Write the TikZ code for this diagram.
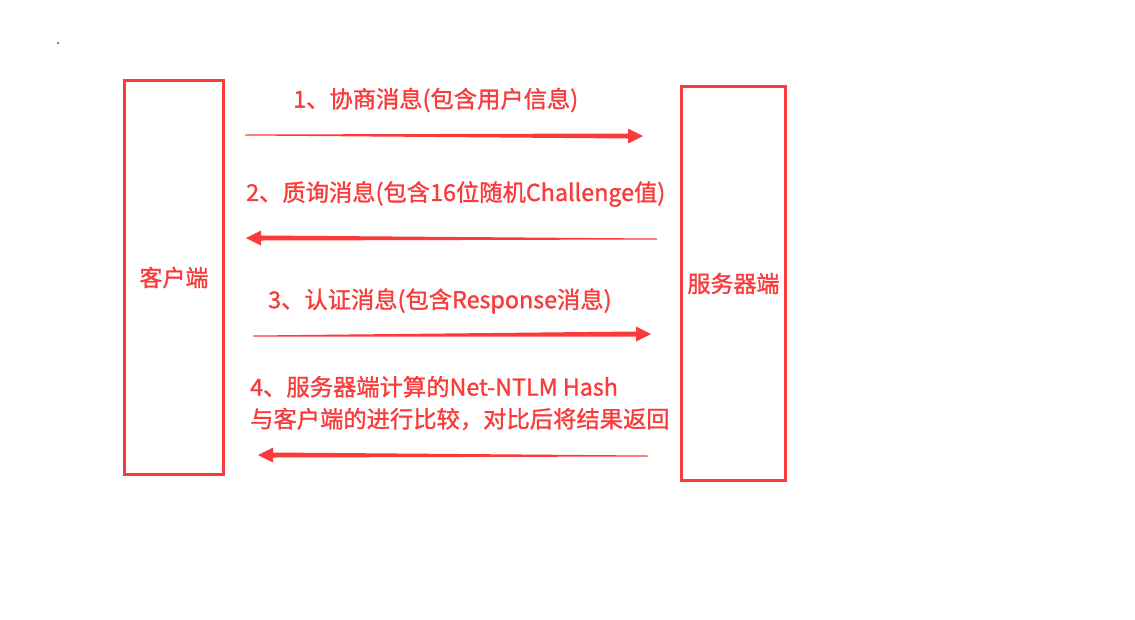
\documentclass[tikz,border=0pt]{standalone}
\usepackage{fontspec}
\newfontfamily\cjk[BoldFont=*, BoldFeatures={FakeBold=1.2}]{Noto Sans CJK SC}
\usetikzlibrary{calc}
\definecolor{rojo}{HTML}{F93B3B}
\tikzset{
  caja/.style={draw=rojo, line width=3pt, minimum width=99pt, minimum height=394pt, text=rojo, font=\cjk\bfseries\fontsize{23}{27}\selectfont},
  etiqueta/.style={anchor=west, inner sep=0pt, align=left, text=rojo, font=\cjk\bfseries\fontsize{23.3}{32}\selectfont},
}
% flecha en forma de cuña: fina en la cola, gruesa en la punta
\newcommand\cuna[2]{%
  \fill[rojo] let \p1=(#1), \p2=(#2), \n1={sign(\x2-\x1)} in
    ({\x1},{\y1+0.5pt}) -- ({\x2-\n1*15pt},{\y2+2.5pt}) -- ({\x2-\n1*15pt},{\y2+7.5pt})
    -- (\p2) -- ({\x2-\n1*15pt},{\y2-7.5pt}) -- ({\x2-\n1*15pt},{\y2-2.5pt})
    -- ({\x1},{\y1-0.5pt}) -- cycle;}

\begin{document}
\begin{tikzpicture}[x=1pt, y=-1pt]
  \useasboundingbox[fill=white] (0,0) rectangle (1135,619);
  \fill (58,43) circle (0.8);

  \node[caja] (cliente) at (174,277.5) {客户端};
  \node[caja, minimum width=104pt] (servidor) at (733.5,283.5) {服务器端};

  % mensajes
  \coordinate (m1a) at (245,135);  \coordinate (m1b) at (643,136);
  \coordinate (m2a) at (657,239);  \coordinate (m2b) at (246,238);
  \coordinate (m3a) at (253,336);  \coordinate (m3b) at (651,334);
  \coordinate (m4a) at (648,456);  \coordinate (m4b) at (258,455);
  \cuna{m1a}{m1b} \cuna{m2a}{m2b} \cuna{m3a}{m3b} \cuna{m4a}{m4b}

  \node[etiqueta] (t1) at (293,100) {1、协商消息(包含用户信息)};
  \node[etiqueta] (t2) at (246,194) {2、质询消息(包含16位随机Challenge值)};
  \node[etiqueta] (t3) at (268,301) {3、认证消息(包含Response消息)};
  \node[etiqueta] (t4) at (250,403) {4、服务器端计算的Net-NTLM Hash\\与客户端的进行比较，对比后将结果返回};
\end{tikzpicture}
\end{document}
